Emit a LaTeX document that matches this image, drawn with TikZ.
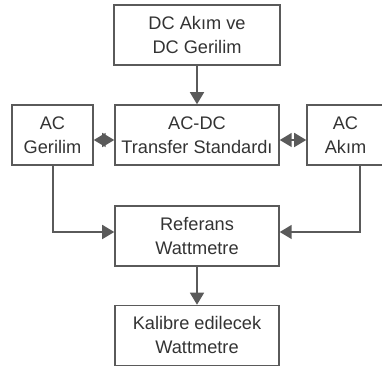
\documentclass[tikz,border=0pt]{standalone}
\usepackage{fontspec}
\setmainfont{Liberation Sans}
\usetikzlibrary{arrows.meta}
\definecolor{lgray}{HTML}{5A5A5A}
\begin{document}
\begin{tikzpicture}[x=0.5pt,y=-0.5pt,
  box/.style={draw=lgray,line width=0.75pt,inner sep=0pt,align=center,text=black!80,
    font=\fontsize{9.1}{12}\selectfont},
  con/.style={draw=lgray,line width=0.75pt,-{Triangle[length=6pt,width=7pt]}}]
\useasboundingbox (0,0) rectangle (382,367);
\node[box,minimum width=83pt,minimum height=30pt] (dc) at (197,35) {DC Akım ve\\DC Gerilim};
\node[box,minimum width=82pt,minimum height=30pt] (std) at (197,135) {AC-DC\\Transfer Standardı};
\node[box,minimum width=40.5pt,minimum height=30pt] (acv) at (52.5,135) {AC\\Gerilim};
\node[box,minimum width=38.5pt,minimum height=30pt] (aci) at (345.5,135) {AC\\Akım};
\node[box,minimum width=82pt,minimum height=30pt] (ref) at (197,236) {Referans\\Wattmetre};
\node[box,minimum width=82pt,minimum height=30pt] (cal) at (197,335.5) {Kalibre edilecek\\Wattmetre};
\draw[con] (dc) -- (std);
\draw[con] (ref) -- (cal);
\coordinate (m1) at (104,140);
\coordinate (m2) at (293,140);
\draw[con] (m1) -- (acv.east |- m1);
\draw[con] (m1) -- (std.west |- m1);
\draw[con] (m2) -- (std.east |- m2);
\draw[con] (m2) -- (aci.west |- m2);
\draw[con] (acv.south -| 53,0) |- (ref.west |- 0,232);
\draw[con] (aci.south -| 360,0) |- (ref.east |- 0,232);
\end{tikzpicture}
\end{document}
